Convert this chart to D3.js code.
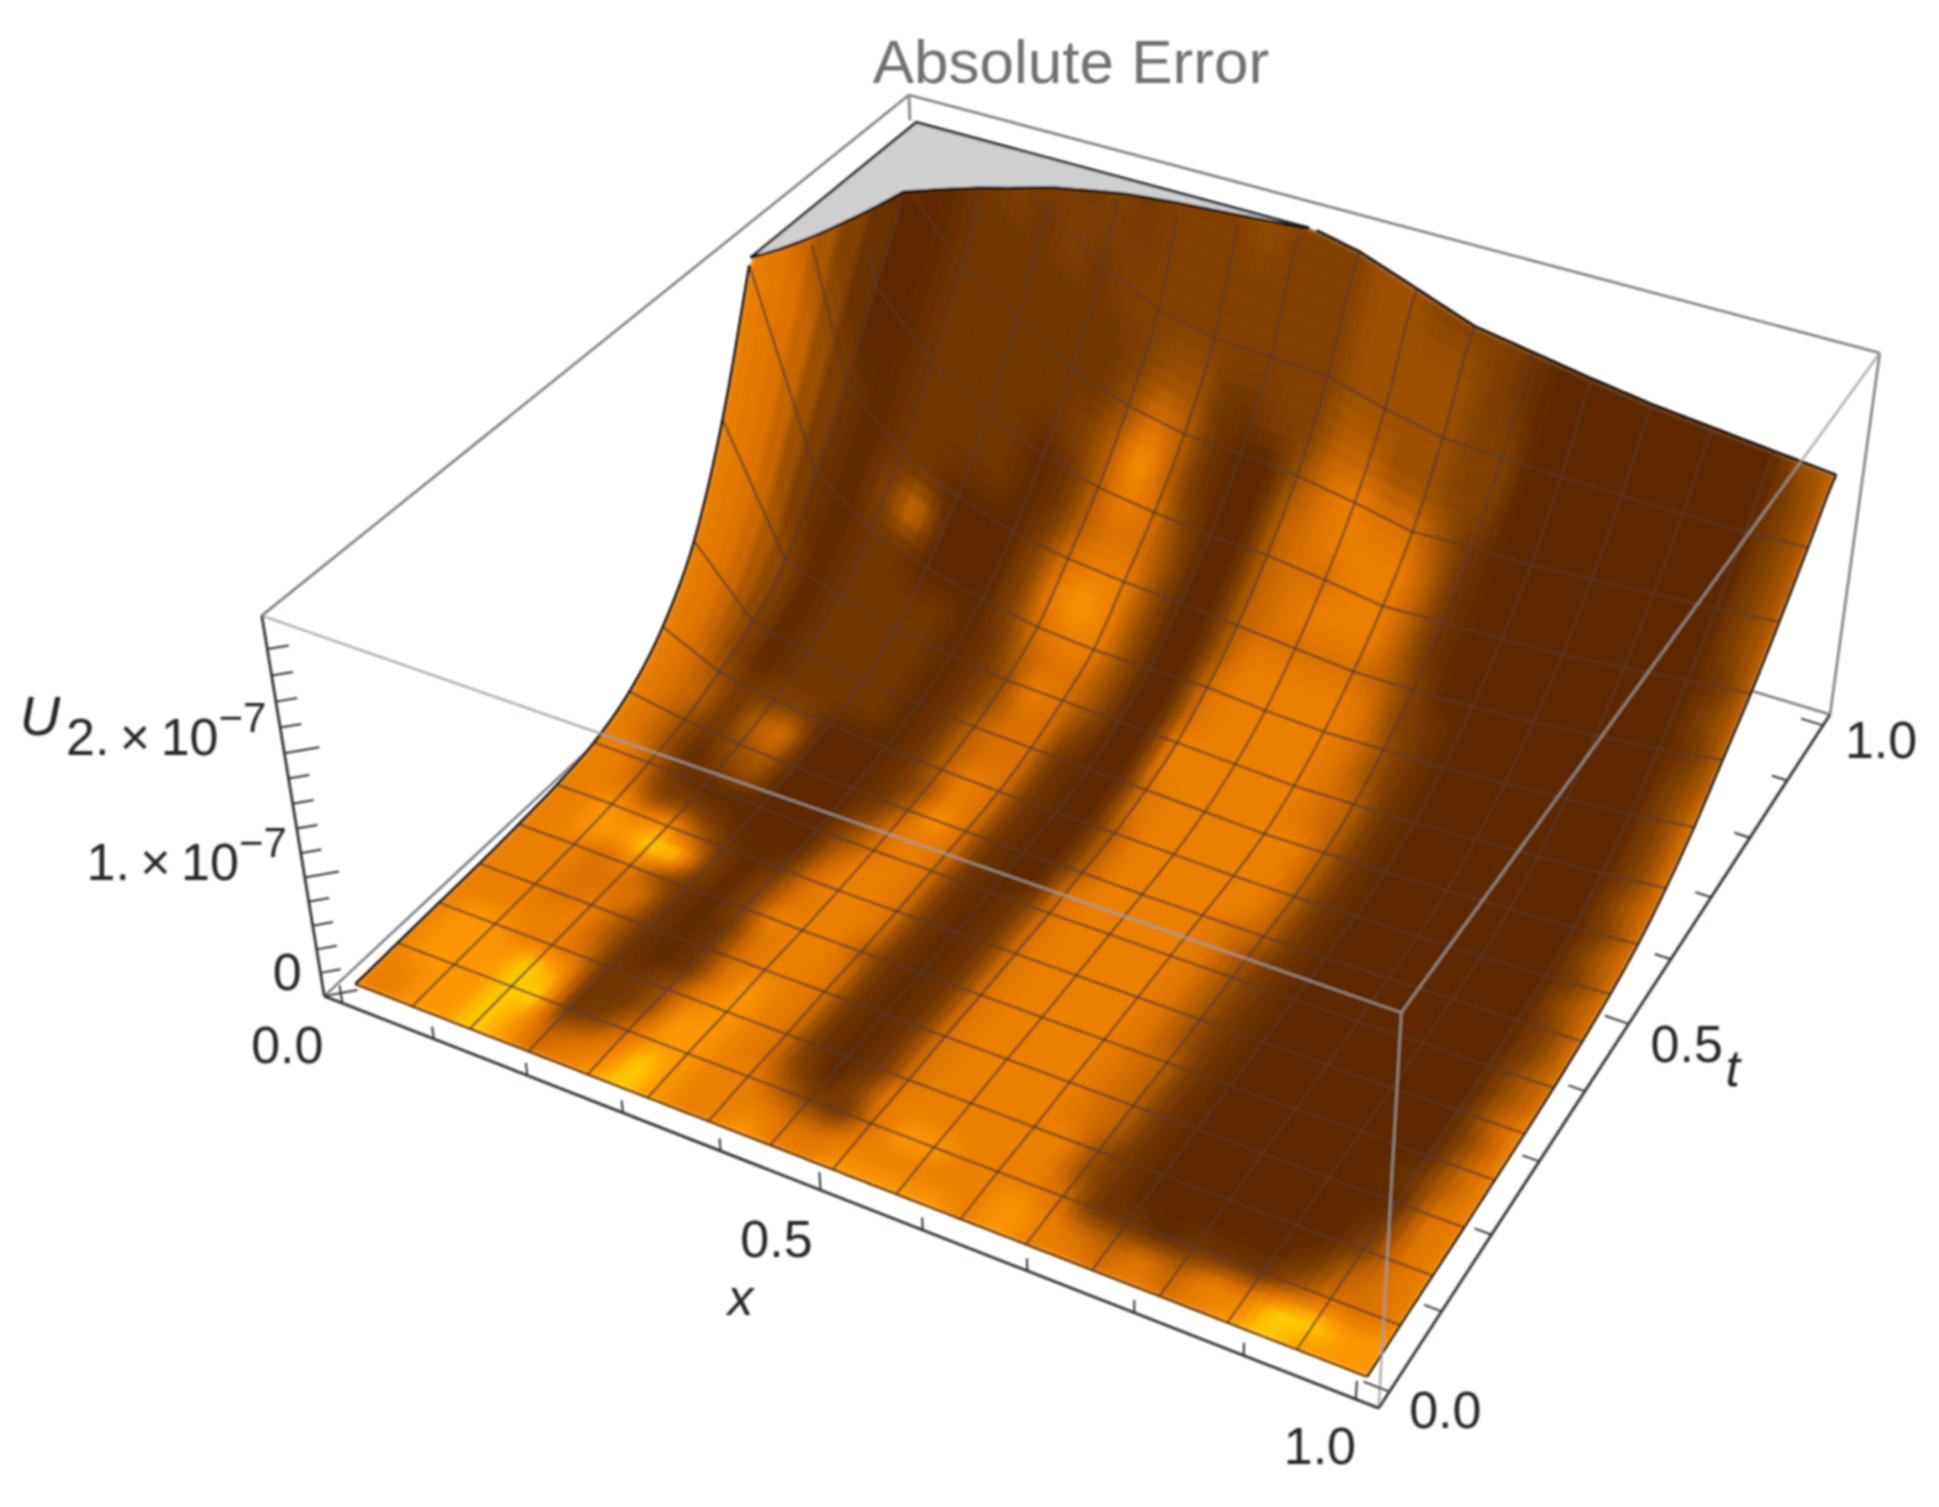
<!DOCTYPE html>
<html><head><meta charset="utf-8">
<script src="https://cdnjs.cloudflare.com/ajax/libs/d3/7.8.5/d3.min.js"></script>
<style>html,body{margin:0;background:#fff}svg{display:block}text{font-family:"Liberation Sans",Arial,sans-serif}</style>
</head><body><svg id="c" width="1939" height="1507"></svg>
<script>
const xTicks=[0,.1,.2,.3,.4,.5,.6,.7,.8,.9,1];
const tTicks=[0,.1,.2,.3,.4,.5,.6,.7,.8,.9,1];
const zTicks=[0,.2,.4,.6,.8,1,1.2,1.4,1.6,1.8,2,2.2,2.4,2.6,2.8];
const title="Absolute Error";
// surface height (units of 1e-7), one list per x mesh column, t = 0..1 in 16 steps
const c0=[0,.01,.02,.03,.05,.08,.14,.28,.55,1,1.75,2.75,3.8,4.8,6,7,8];
const c1=[0,.01,.02,.03,.05,.08,.13,.2,.32,.47,.72,1.2,1.7,2.25,2.85,3.7,4.6];
const c2=[0,.01,.02,.03,.04,.06,.1,.15,.23,.35,.55,.85,1.25,1.75,2.3,3.1,3.9];
const c3=[0,.01,.02,.02,.03,.05,.08,.12,.18,.27,.43,.68,1.02,1.45,2,2.65,3.4];
const c4=[0,.01,.01,.02,.03,.04,.06,.1,.15,.23,.36,.56,.86,1.25,1.72,2.35,3.1];
const c5=[0,.01,.01,.02,.02,.03,.05,.08,.12,.19,.3,.47,.78,1.12,1.55,2.1,3];
const c6=[0,.01,.01,.02,.02,.03,.05,.07,.1,.17,.28,.43,.73,1.05,1.45,2,2.9];
const c7=[0,.01,.01,.02,.02,.03,.04,.06,.09,.15,.26,.42,.7,1,1.42,1.98,2.82];
const c8=[0,.01,.01,.02,.02,.03,.04,.06,.08,.14,.24,.42,.66,.98,1.38,1.95,2.72];
const c9=[0,.01,.01,.02,.02,.03,.04,.05,.07,.12,.22,.38,.62,.92,1.3,1.82,2.55];
const c10=[0,.01,.01,.02,.02,.03,.04,.05,.06,.1,.2,.36,.58,.85,1.2,1.72,2.38];
const c11=[0,.01,.01,.02,.02,.03,.04,.05,.06,.11,.21,.37,.58,.87,1.22,1.7,2.3];
const c12=[0,.01,.01,.02,.02,.03,.04,.05,.07,.12,.22,.38,.6,.88,1.22,1.68,2.22];
const c13=[0,.01,.01,.02,.02,.03,.04,.06,.08,.14,.25,.41,.63,.9,1.25,1.67,2.15];
const c14=[0,.01,.01,.02,.03,.03,.05,.07,.09,.16,.28,.45,.68,.95,1.28,1.66,2.1];
const c15=[0,.01,.015,.02,.03,.04,.05,.08,.11,.18,.31,.49,.73,1,1.31,1.66,2.05];
const c16=[0,.01,.015,.02,.03,.04,.06,.09,.14,.22,.36,.55,.8,1.05,1.35,1.68,2];
const heightColumns=[c0,c1,c2,c3,c4,c5,c6,c7,c8,c9,c10,c11,c12,c13,c14,c15,c16];
// surface brightness level 0..9, half-cell grid: rows t=0..1, characters x=0..1
const shade=[
"7788 9867 8987 7877 8888 7877 6767 8988 8",
"7788 9856 7987 7766 7777 7876 5657 7998 8",
"7888 9923 6887 7532 6887 7762 2122 2466 7",
"7888 9822 4887 6313 7777 7742 1111 1256 7",
"7887 7622 4787 6212 6777 7742 1111 1136 7",
"7777 7521 2687 6212 6777 7652 1111 1126 7",
"7776 7521 2677 6212 6777 7652 1111 1116 7",
"7776 6621 2677 6212 6777 7652 1111 1125 7",
"7776 7421 3777 5212 6777 7652 1111 1115 7",
"7788 9931 3677 6212 6777 7642 1111 1114 7",
"7787 8521 2677 6212 6777 7642 1111 1115 7",
"7763 3211 1577 6212 6777 7642 1111 1114 6",
"7752 1111 1467 6212 6777 7642 1111 1114 6",
"7641 3411 1367 6211 6777 7642 1111 1113 6",
"7642 4511 1258 6211 5777 7652 1111 1113 6",
"7652 5611 1247 6211 5777 7752 1111 1114 6",
"7642 3311 1257 6211 5777 7752 1111 1113 6",
"7631 2222 1256 6211 6777 7752 1111 1114 6",
"7631 2222 1256 6211 6777 7752 1111 1113 6",
"7631 2222 1246 6311 7777 7652 1111 1114 6",
"7631 2222 1247 6411 7777 7652 1111 1113 6",
"7621 2222 1256 6411 6777 7642 1111 1113 6",
"7621 2211 1367 7411 6777 7642 1111 1113 6",
"7621 3611 1378 7411 5777 7632 1111 1113 5",
"7521 2211 1367 7411 5666 6531 1111 1112 5",
"7511 2222 1256 6411 5677 7521 1111 1113 5",
"7511 2222 1257 6311 5667 7521 1111 1112 5",
"7511 2222 2358 5211 5677 7521 1111 1113 5",
"6411 2222 2246 5211 4676 6421 1111 1113 5",
"6421 2222 2234 4223 3554 4331 1111 1113 5",
"5432 2323 2333 3333 3444 4331 1111 1113 5",
"5433 3332 3233 3333 3444 4321 1111 1113 5",
"5433 3323 3333 3433 3443 3321 1111 1114 5"
].map(s=>s.replace(/ /g,"").split("").map(Number));

// ---- camera, fitted to the box corners of the reference
const K=1939/1568;
const corners=[[0,0,1,212,497],[1,0,1,1133,820],[1,1,1,1520,285],[0,1,1,735,77],[0,0,0,262,806],[1,0,0,1115,1138],[1,1,0,1480,578]];
function fit(cs){const A=[],b=[];cs.forEach(([u,v,w,px,py])=>{const X=px*K/1000,Y=py*K/1000;
 A.push([u,v,w,1,0,0,0,0,-X*u,-X*v,-X*w]);b.push(X);A.push([0,0,0,0,u,v,w,1,-Y*u,-Y*v,-Y*w]);b.push(Y);});
 const n=11,M=d3.range(n).map(i=>d3.range(n+1).map(j=>d3.sum(A,(r,k)=>r[i]*(j<n?r[j]:b[k]))+(i===j?1e-9:0)));
 for(let i=0;i<n;i++){let p=i;for(let r=i+1;r<n;r++)if(Math.abs(M[r][i])>Math.abs(M[p][i]))p=r;[M[i],M[p]]=[M[p],M[i]];
  for(let r=0;r<n;r++)if(r!==i){const f=M[r][i]/M[i][i];for(let c=i;c<=n;c++)M[r][c]-=f*M[i][c];}}
 return d3.range(n).map(i=>M[i][n]/M[i][i]);}
const P=fit(corners);
const proj=(u,v,w)=>{const d=P[8]*u+P[9]*v+P[10]*w+1;return[(P[0]*u+P[1]*v+P[2]*w+P[3])/d*1000,(P[4]*u+P[5]*v+P[6]*w+P[7])/d*1000];};
const sx=d3.scaleLinear().domain([-.02,1.02]).range([0,1]);
const sz=d3.scaleLinear().domain([-.05,2.92]).range([0,1]);
const szTick=d3.scaleLinear().domain([0,3.05]).range([0,1]);
const pt=(x,t,z)=>proj(sx(x),sx(t),sz(z));
const clipZ=2.8;
// ---- surface interpolation
const cr=(a,b,c,d,f)=>.5*(2*b+(c-a)*f+(2*a-5*b+4*c-d)*f*f+(3*b-a-3*c+d)*f*f*f);
function colZ(col,t){const s=Math.min(t*16,15.9999),j=Math.floor(s),f=s-j,h=heightColumns[col];
 return Math.max(0,cr(h[Math.max(j-1,0)],h[j],h[j+1],h[Math.min(j+2,16)],f));}
function zAt(x,t){const s=Math.min(x*16,15.9999),i=Math.floor(s),f=s-i;return colZ(i,t)*(1-f)+colZ(i+1,t)*f;}
function shadeAt(x,t){const a=Math.min(x*32,31.9999),b=Math.min(t*32,31.9999),i=Math.floor(a),j=Math.floor(b),f=a-i,g=b-j;
 return (shade[j][i]*(1-f)+shade[j][i+1]*f)*(1-g)+(shade[j+1][i]*(1-f)+shade[j+1][i+1]*f)*g;}
const colour=d3.scaleLinear().domain([0,1,2,3,4,5,6,7,8,9])
 .range(["#4a1f00","#5c2800","#6e3400","#824000","#9c4e00","#bb5f00","#d97000","#ea7f00","#fb9600","#ffce00"]);

const svg=d3.select("#c");
const defs=svg.append("defs");
const blur=(id,s)=>defs.append("filter").attr("id",id).attr("x","-5%").attr("y","-5%").attr("width","110%").attr("height","110%")
 .append("feGaussianBlur").attr("stdDeviation",s);
blur("soft",.8);blur("smooth",2.8);
const root=svg.append("g").attr("filter","url(#soft)");
const line=d3.line();
const boxLine=(a,b)=>line([proj(...a),proj(...b)]);
const S=d3.range(0,129).map(k=>k/128);

// back box edges
const back=root.append("g").attr("fill","none").attr("stroke","#7f7f7f").attr("stroke-width",2.6);
[[[0,0,1],[0,1,1]],[[0,1,1],[1,1,1]],[[1,1,1],[1,1,0]],[[1,1,0],[0,1,0]],[[0,0,0],[0,1,0]],[[0,1,1],[0,1,.93]]]
 .forEach(e=>back.append("path").attr("d",boxLine(...e)));

// surface silhouette used to keep the smoothed colours inside the surface
const q=(x,t)=>pt(x,t,Math.min(zAt(x,t),clipZ));
const rim=[...S.map(x=>q(x,0)),...S.map(t=>q(1,t)),...S.slice().reverse().map(x=>q(x,1)),...S.slice().reverse().map(t=>q(0,t))];
defs.append("clipPath").attr("id","rim").append("path").attr("d",line(rim)+"Z");

// surface
const N=96,cells=[];
for(let j=N-1;j>=0;j--)for(let i=0;i<N;i++)cells.push([i,j]);
root.append("g").attr("clip-path","url(#rim)").append("g").attr("filter","url(#smooth)")
 .selectAll("path").data(cells).join("path")
 .attr("d",([i,j])=>line([q(i/N,j/N),q((i+1)/N,j/N),q((i+1)/N,(j+1)/N),q(i/N,(j+1)/N)])+"Z")
 .attr("fill",([i,j])=>colour(shadeAt((i+.5)/N,(j+.5)/N)))
 .attr("stroke",([i,j])=>colour(shadeAt((i+.5)/N,(j+.5)/N))).attr("stroke-width",.7);

// mesh
const mesh=root.append("g").attr("fill","none").attr("stroke","#5a3a2c").attr("stroke-opacity",.7).attr("stroke-width",2.5);
d3.range(1,16).forEach(m=>{
 mesh.append("path").attr("d",line(S.filter(t=>zAt(m/16,t)<clipZ).map(t=>pt(m/16,t,zAt(m/16,t)))));
 mesh.append("path").attr("d",line(S.filter(x=>zAt(x,m/16)<clipZ).map(x=>pt(x,m/16,zAt(x,m/16)))));
});

// clipped top region and its contour
const contour=[];
S.forEach(x=>{ if(zAt(x,1)<clipZ)return; let lo=0,hi=1;for(let k=0;k<24;k++){const m=(lo+hi)/2;if(zAt(x,m)<clipZ)lo=m;else hi=m;}contour.push(pt(x,lo,clipZ));});
const tail=d3.range(0,200).map(k=>k/200).filter(x=>zAt(x,1)>=clipZ).pop();
const cornerPt=pt(0,1,clipZ),endPt=pt(tail,1,clipZ);
root.append("path").attr("d",line([cornerPt,...contour,endPt])+"Z").attr("fill","#cfcfd0").attr("stroke","none");
root.append("path").attr("d",line([contour[0],cornerPt,endPt])).attr("fill","none").attr("stroke","#23282e").attr("stroke-width",2.8);

// surface outline
const outline=root.append("g").attr("fill","none").attr("stroke","#1a0a00").attr("stroke-width",2.8);
outline.append("path").attr("d",line(S.filter(t=>zAt(0,t)<clipZ).map(t=>pt(0,t,zAt(0,t)))));
outline.append("path").attr("d",line(contour));
outline.append("path").attr("d",line(S.filter(x=>zAt(x,1)<clipZ).map(x=>pt(x,1,zAt(x,1)))));
outline.append("path").attr("d",line(S.map(t=>pt(1,t,zAt(1,t))))).attr("stroke-width",2.4);
outline.append("path").attr("d",line(S.map(x=>pt(x,0,zAt(x,0))))).attr("stroke","#6e3400").attr("stroke-width",2.4);

// front box edges, over the surface
const front=root.append("g").attr("fill","none").attr("stroke","#a39c96").attr("stroke-opacity",.8).attr("stroke-width",2.6);
[[[0,0,1],[1,0,1]],[[1,0,1],[1,1,1]],[[1,0,1],[1,0,0]]].forEach(e=>front.append("path").attr("d",boxLine(...e)));

// axes
const ax=root.append("g").attr("fill","none").attr("stroke","#2e343a").attr("stroke-width",2.8);
[[[0,0,0],[0,0,1]],[[0,0,0],[1,0,0]],[[1,0,0],[1,1,0]]].forEach(e=>ax.append("path").attr("d",boxLine(...e)));
const major=v=>Math.abs(v*2-Math.round(v*2))<1e-6;
xTicks.forEach(v=>ax.append("path").attr("stroke-width",2).attr("d",line([proj(sx(v),0,0),proj(sx(v),0,major(v)?.05:.035)])));
tTicks.forEach(v=>ax.append("path").attr("stroke-width",2).attr("d",line([proj(1,sx(v),0),proj(major(v)?.978:.985,sx(v),0)])));
zTicks.forEach(v=>{const m=Math.abs(v-Math.round(v))<1e-6;const d=m?.02:.012;ax.append("path").attr("stroke-width",2).attr("d",line([proj(0,0,szTick(v)),proj(d,d,szTick(v))]));});

// text
const txt=root.append("g").attr("fill","#262626").attr("font-size",52);
const label=(s,[x,y],dx,dy,anchor="middle",style)=>txt.append("text").attr("x",x+dx).attr("y",y+dy).attr("text-anchor",anchor).attr("font-style",style||"normal").text(s);
label("0.0",proj(sx(0),0,0),-55,60);
label("0.5",proj(sx(.5),0,0),-44,67);
label("1.0",proj(sx(1),0,0),-36,65);
label("0.0",proj(1,sx(0),0),56,36);
label("0.5",proj(1,sx(.5),0),58,38);
label("1.0",proj(1,sx(1),0),58,33);
label("x",proj(sx(.5),0,0),-80,125,"middle","italic");
label("t",proj(1,sx(.5),0),104,62,"middle","italic");
label("0",proj(0,0,szTick(0)),-37,-6);
[[1,"1."],[2,"2."]].forEach(([v,s])=>{
 const p=proj(0,0,szTick(v));
 const t=txt.append("text").attr("x",p[0]-18).attr("y",p[1]+2).attr("text-anchor","end");
 t.append("tspan").text(s+"\u2009\u00d7\u200910");
 t.append("tspan").attr("dy",-23).attr("font-size",42).text("\u22127");
});
txt.append("text").attr("x",40).attr("y",735).attr("text-anchor","middle").attr("font-style","italic").attr("font-size",56).text("U");
root.append("text").attr("x",K*866).attr("y",K*67).attr("text-anchor","middle").attr("font-size",62).attr("fill","#707070").text(title);
</script></body></html>
